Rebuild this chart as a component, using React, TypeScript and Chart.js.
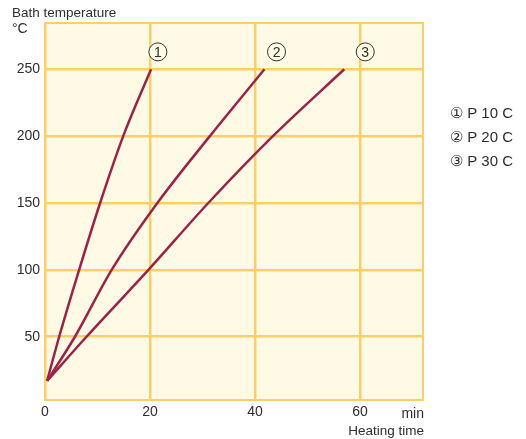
import React, { useEffect, useRef } from "react";
import { Chart, registerables } from "chart.js";

Chart.register(...registerables);

// Data (heating time in min, bath temperature in °C)
const seriesNames = ["P 10 C", "P 20 C", "P 30 C"];
const temps = [17, 50, 100, 150, 200, 250];
const timesP10 = [0.4, 2.7, 6.5, 10.5, 14.9, 20.2];
const timesP20 = [0.4, 5.7, 12.7, 21.4, 31.4, 41.8];
const timesP30 = [0.4, 7.9, 19.7, 31.1, 43.4, 57.0];
const xTicks = [0, 20, 40, 60];
const yTicks = [50, 100, 150, 200, 250];
const markerTimes = [21.5, 44.1, 61.0];
const markerTemp = 263;
const markerLabels = ["1", "2", "3"];
const legendSymbols = ["①", "②", "③"];

const BG = "#FFFAE6";
const GRID = "#FFCF66";
const LINE = "#9B2446";
const TEXT = "#2E2E2E";
const FONT = "'Liberation Sans', Arial, sans-serif";

export default function App() {
  const ref = useRef<HTMLCanvasElement | null>(null);

  useEffect(() => {
    const canvas = ref.current;
    if (!canvas) return;
    const allTimes = [timesP10, timesP20, timesP30];

    const decor = {
      id: "decor",
      beforeDraw(chart: any) {
        const { ctx, chartArea: a } = chart;
        ctx.save();
        ctx.fillStyle = BG;
        ctx.fillRect(a.left, a.top, a.right - a.left, a.bottom - a.top);
        ctx.restore();
      },
      beforeDatasetsDraw(chart: any) {
        const { ctx, chartArea: a } = chart;
        ctx.save();
        ctx.strokeStyle = GRID;
        ctx.lineWidth = 2;
        ctx.strokeRect(a.left, a.top, a.right - a.left, a.bottom - a.top);
        ctx.restore();
      },
      afterDraw(chart: any) {
        const { ctx, chartArea: a, scales } = chart;
        ctx.save();
        // marker circles
        markerTimes.forEach((t, i) => {
          const x = scales.x.getPixelForValue(t);
          const y = scales.y.getPixelForValue(markerTemp);
          ctx.beginPath();
          ctx.arc(x, y, 9, 0, Math.PI * 2);
          ctx.fillStyle = BG;
          ctx.fill();
          ctx.lineWidth = 1;
          ctx.strokeStyle = "#333";
          ctx.stroke();
          ctx.fillStyle = TEXT;
          ctx.font = `14px ${FONT}`;
          ctx.textAlign = "center";
          ctx.textBaseline = "middle";
          ctx.fillText(markerLabels[i], x, y + 1);
        });
        // axis titles
        ctx.fillStyle = TEXT;
        ctx.textBaseline = "alphabetic";
        ctx.textAlign = "left";
        ctx.font = `13.5px ${FONT}`;
        ctx.fillText("Bath temperature", 12, 17);
        ctx.font = `14px ${FONT}`;
        ctx.fillText("°C", 12, 33);
        ctx.textAlign = "right";
        ctx.fillText("min", a.right + 1, 418);
        ctx.font = `13.5px ${FONT}`;
        ctx.fillText("Heating time", a.right + 1, 435);
        // legend
        ctx.textAlign = "left";
        ctx.font = `15px ${FONT}`;
        seriesNames.forEach((name, i) => {
          ctx.fillText(`${legendSymbols[i]} ${name}`, 450, 118 + i * 24);
        });
        ctx.restore();
      },
    };

    const chart = new Chart(canvas, {
      type: "line",
      data: {
        datasets: allTimes.map((times, i) => ({
          label: seriesNames[i],
          data: times.map((t, j) => ({ x: t, y: temps[j] })),
          borderColor: LINE,
          borderWidth: 2.5,
          pointRadius: 0,
          cubicInterpolationMode: "monotone" as const,
          fill: false,
        })),
      },
      options: {
        responsive: false,
        animation: false,
        layout: { padding: { top: 23, right: 103, left: 0, bottom: 0 } },
        plugins: { legend: { display: false }, tooltip: { enabled: false } },
        scales: {
          x: {
            type: "linear",
            min: 0,
            max: 72,
            afterFit(scale: any) {
              scale.height = 39;
            },
            afterBuildTicks(scale: any) {
              scale.ticks = xTicks.map((v) => ({ value: v }));
            },
            grid: { color: GRID, lineWidth: 2.5, drawTicks: false },
            border: { display: false },
            ticks: {
              padding: 4,
              color: TEXT,
              font: { size: 14, family: FONT },
              maxRotation: 0,
            },
          },
          y: {
            type: "linear",
            min: 2.7,
            max: 284.6,
            afterFit(scale: any) {
              scale.width = 45;
            },
            afterBuildTicks(scale: any) {
              scale.ticks = yTicks.map((v) => ({ value: v }));
            },
            grid: { color: GRID, lineWidth: 2.5, drawTicks: false },
            border: { display: false },
            ticks: {
              padding: 5,
              color: TEXT,
              font: { size: 14, family: FONT },
            },
          },
        },
      },
      plugins: [decor],
    });
    return () => chart.destroy();
  }, []);

  return (
    <div style={{ position: "absolute", left: 0, top: 0, width: 526, height: 439, background: "#fff" }}>
      <canvas ref={ref} width={526} height={439} style={{ display: "block" }} />
    </div>
  );
}
